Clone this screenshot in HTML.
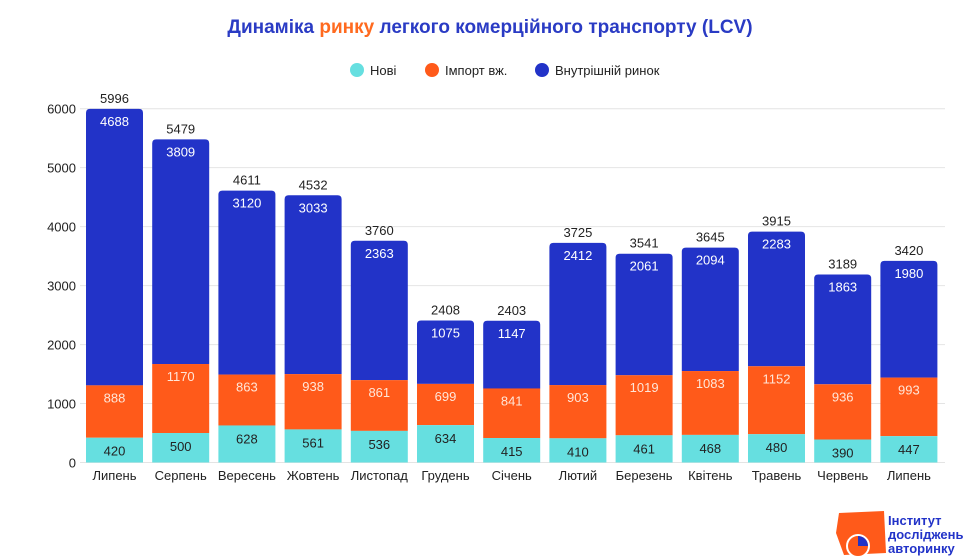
<!DOCTYPE html>
<html><head><meta charset="utf-8"><style>
body{margin:0;background:#fff;}
svg{display:block;font-family:"Liberation Sans",sans-serif;}
</style></head><body>
<svg width="980" height="560" viewBox="0 0 980 560" xmlns="http://www.w3.org/2000/svg">
<rect width="980" height="560" fill="#fff"/>
<text x="490" y="33" text-anchor="middle" font-size="19" font-weight="bold" fill="#2a3bc4">Динаміка <tspan fill="#ff6a1f">ринку</tspan> легкого комерційного транспорту (LCV)</text>
<circle cx="357" cy="70" r="7" fill="#66dfe0"/><text x="370" y="75" font-size="13" fill="#222">Нові</text>
<circle cx="432" cy="70" r="7" fill="#ff5a1a"/><text x="445" y="75" font-size="13" fill="#222">Імпорт вж.</text>
<circle cx="542" cy="70" r="7" fill="#2233c8"/><text x="555" y="75" font-size="13" fill="#222">Внутрішній ринок</text>
<g id="grid"></g>
<g id="bars"></g>
<g transform="translate(836,513)">
<path d="M3,0 L48,-2 L50,40 L8,42 L0,20 Z" fill="#ff5a1a"/>
<circle cx="22" cy="33" r="11" fill="#ff5a1a" stroke="#fff" stroke-width="2"/>
<path d="M22,33 L22,23 A10,10 0 0 1 32,33 Z" fill="#2233c8"/>
<text x="52" y="12" font-size="13" font-weight="bold" fill="#2233c8">Інститут</text>
<text x="52" y="26" font-size="13" font-weight="bold" fill="#2233c8">досліджень</text>
<text x="52" y="40" font-size="13" font-weight="bold" fill="#2233c8">авторинку</text>
</g>
</svg>
<script>
const d=[["Липень",420,888,4688,5996],["Серпень",500,1170,3809,5479],["Вересень",628,863,3120,4611],["Жовтень",561,938,3033,4532],["Листопад",536,861,2363,3760],["Грудень",634,699,1075,2408],["Січень",415,841,1147,2403],["Лютий",410,903,2412,3725],["Березень",461,1019,2061,3541],["Квітень",468,1083,2094,3645],["Травень",480,1152,2283,3915],["Червень",390,936,1863,3189],["Липень",447,993,1980,3420]];
const Y0=462.5,S=353.8/6000;const y=v=>Y0-v*S;
let g='';for(let i=0;i<=6;i++){const yy=y(i*1000);g+=`<line x1="80" x2="945" y1="${yy}" y2="${yy}" stroke="#e4e4e4"/><text x="76" y="${yy+5}" text-anchor="end" font-size="13" fill="#222">${i*1000}</text>`;}
document.getElementById('grid').innerHTML=g;
let b='';d.forEach((r,i)=>{const x=86+i*66.2,w=57,c=x+w/2;const [n,a,im,v,t]=r;
const y1=y(a),y2=y(a+im),y3=y(t);
b+=`<path d="M${x},${y2} V${y3+4} Q${x},${y3} ${x+4},${y3} H${x+w-4} Q${x+w},${y3} ${x+w},${y3+4} V${y2} Z" fill="#2233c8"/>`;
b+=`<rect x="${x}" y="${y2}" width="${w}" height="${y1-y2}" fill="#ff5a1a"/>`;
b+=`<rect x="${x}" y="${y1}" width="${w}" height="${Y0-y1}" fill="#66dfe0"/>`;
b+=`<text x="${c}" y="${y3-6}" text-anchor="middle" font-size="13" fill="#222">${t}</text>`;
b+=`<text x="${c}" y="${y3+17}" text-anchor="middle" font-size="13" fill="#fff">${v}</text>`;
b+=`<text x="${c}" y="${y2+17}" text-anchor="middle" font-size="13" fill="#ffe6d8">${im}</text>`;
b+=`<text x="${c}" y="${y1+18}" text-anchor="middle" font-size="13" fill="#222">${a}</text>`;
b+=`<text x="${c}" y="480" text-anchor="middle" font-size="13" fill="#222">${n}</text>`;});
document.getElementById('bars').innerHTML=b;
</script>
</body></html>
